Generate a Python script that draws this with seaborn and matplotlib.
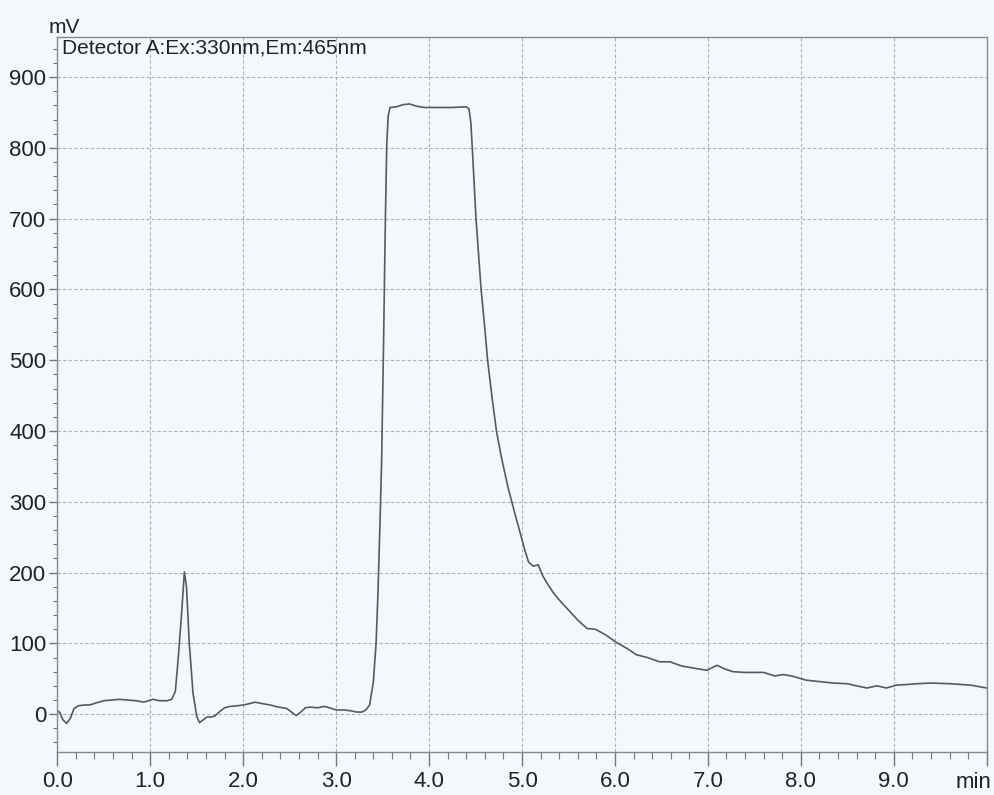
import matplotlib
matplotlib.use("Agg")
import matplotlib.pyplot as plt
from matplotlib.ticker import MultipleLocator, FixedLocator
import seaborn as sns
import pandas as pd

time_min = [0.00, 0.03, 0.06, 0.10, 0.14, 0.18, 0.23, 0.30, 0.35, 0.42, 0.50, 0.58, 0.67, 0.75,
            0.85, 0.93, 0.98, 1.03, 1.10, 1.18, 1.23, 1.27, 1.30, 1.34, 1.367, 1.39, 1.42, 1.46,
            1.50, 1.53, 1.57, 1.61, 1.66, 1.70, 1.75, 1.80, 1.86, 1.95, 2.04, 2.10, 2.13, 2.20,
            2.29, 2.38, 2.47, 2.52, 2.57, 2.62, 2.67, 2.72, 2.80, 2.87, 2.93, 3.00, 3.08, 3.15,
            3.22, 3.28, 3.32, 3.36, 3.40, 3.43, 3.45, 3.47, 3.49, 3.51, 3.53, 3.545, 3.56, 3.58,
            3.65, 3.72, 3.79, 3.86, 3.95, 4.10, 4.25, 4.40, 4.43, 4.45, 4.465, 4.505, 4.56, 4.60,
            4.63, 4.68, 4.725, 4.78, 4.85, 4.92, 4.98, 5.03, 5.07, 5.12, 5.175, 5.22, 5.27, 5.34,
            5.41, 5.48, 5.60, 5.70, 5.79, 5.90, 6.02, 6.14, 6.23, 6.35, 6.48, 6.59, 6.72, 6.85,
            6.99, 7.05, 7.10, 7.18, 7.27, 7.40, 7.60, 7.72, 7.81, 7.90, 8.06, 8.20, 8.35, 8.50,
            8.60, 8.71, 8.82, 8.92, 9.03, 9.15, 9.25, 9.40, 9.61, 9.72, 9.83, 10.00]
signal_mv = [5, 2, -8, -13, -6, 8, 12, 13, 13, 16, 19, 20, 21, 20,
             19, 17, 19, 21, 19, 19, 21, 32, 77, 147, 201, 180, 100, 30,
             -3, -12, -8, -4, -4, -2, 4, 9, 11, 12, 14, 16, 17, 15,
             13, 10, 8, 3, -2, 3, 9, 10, 9, 11, 9, 6, 6, 5,
             3, 3, 6, 13, 45, 100, 170, 260, 360, 520, 700, 805, 845, 857,
             858, 861, 862, 859, 857, 857, 857, 858, 855, 835, 800, 700, 600, 545,
             500, 445, 400, 362, 320, 285, 256, 232, 215, 209, 211, 196, 185, 171,
             160, 150, 133, 121, 120, 112, 101, 92, 84, 80, 74, 74, 68, 65,
             62, 66, 69, 64, 60, 59, 59, 54, 56, 54, 48, 46, 44, 43,
             40, 37, 40, 37, 41, 42, 43, 44, 43, 42, 41, 37]

x_tick_values = [0, 1, 2, 3, 4, 5, 6, 7, 8, 9, 10]
x_tick_labels = ["0.0", "1.0", "2.0", "3.0", "4.0", "5.0", "6.0", "7.0", "8.0", "9.0", ""]
y_tick_values = [0, 100, 200, 300, 400, 500, 600, 700, 800, 900]
detector_label = "Detector A:Ex:330nm,Em:465nm"

df = pd.DataFrame({"time": time_min, "signal": signal_mv})

sns.set_style("white")
bg = "#f3f8fb"
plt.rcParams["font.family"] = ["Liberation Sans", "DejaVu Sans"]

fig = plt.figure(figsize=(9.94, 7.95), dpi=100, facecolor=bg)
ax = fig.add_axes([57.3 / 994, (795 - 751.7) / 795, (986.7 - 57.3) / 994, (751.7 - 36.7) / 795])
ax.set_facecolor(bg)

sns.lineplot(data=df, x="time", y="signal", ax=ax, color="#5a5a5e", linewidth=1.2,
             sort=False, estimator=None)

ax.set_xlim(0, 10)
ax.set_ylim(-53, 957)
ax.xaxis.set_major_locator(FixedLocator(x_tick_values))
ax.set_xticklabels(x_tick_labels)
ax.xaxis.set_minor_locator(MultipleLocator(0.2))
ax.yaxis.set_major_locator(FixedLocator(y_tick_values))
ax.yaxis.set_minor_locator(MultipleLocator(20))

ax.grid(True, which="major", color="#aab0c0", linestyle=(0, (3, 2)), linewidth=0.8)
ax.set_axisbelow(True)

for s in ax.spines.values():
    s.set_color("#8a8a8a")
    s.set_linewidth(1.0)

ax.tick_params(axis="x", which="major", direction="out", length=10, width=1.0,
               color="#777777", labelsize=16, pad=4, labelcolor="#222222")
ax.tick_params(axis="x", which="minor", direction="out", length=5, width=0.8, color="#777777")
ax.tick_params(axis="y", which="major", direction="out", length=6, width=1.0,
               color="#777777", labelsize=16, pad=2, labelcolor="#222222")
ax.tick_params(axis="y", which="minor", direction="out", length=3, width=0.8, color="#777777")
ax.tick_params(bottom=True, left=True, which="both")

ax.set_xlabel("")
ax.set_ylabel("")

fig.text(49 / 994, 1 - 33 / 795, "mV", fontsize=15, color="#222222", ha="left", va="baseline")
ax.text(0.005, 0.997, detector_label, transform=ax.transAxes, fontsize=15,
        color="#222222", ha="left", va="top")
fig.text(991 / 994, 1 - 788 / 795, "min", fontsize=16, color="#222222", ha="right", va="baseline")

fig.savefig("out.png", dpi=100, facecolor=bg)
